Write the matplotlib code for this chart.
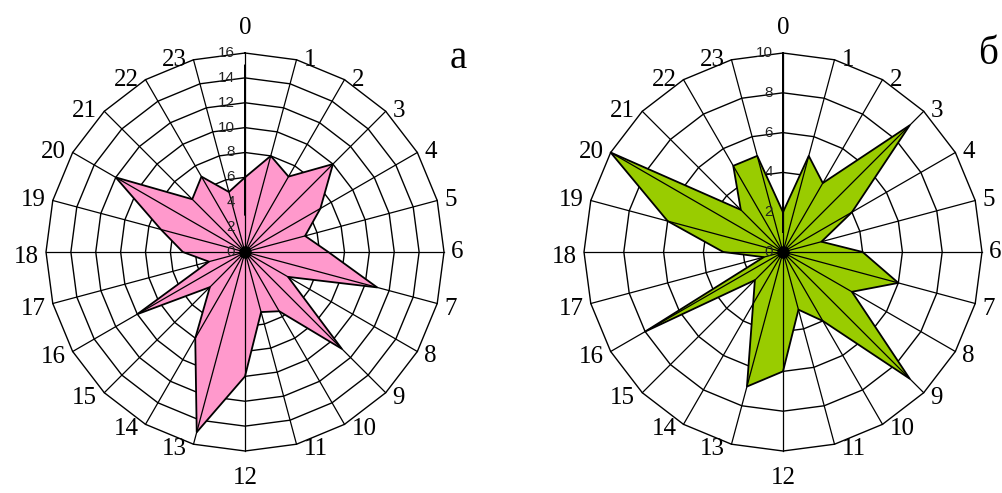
import numpy as np
import matplotlib
matplotlib.use("Agg")
import matplotlib.pyplot as plt

hours = [str(h) for h in range(24)]

# values per hour, panel a (pink) and panel б (green)
vals_a = [6, 8, 7, 10, 7, 5, 6.7, 11, 4, 11, 5.5, 5, 10, 15, 8, 4, 10, 3, 5, 7, 12, 6, 7, 5]
vals_b = [2, 5, 4, 9, 4, 2, 4, 6, 4, 9, 4, 3, 6, 7, 3, 2, 8, 1, 3, 6, 10, 3, 5, 5]

ticks_a = [0, 2, 4, 6, 8, 10, 12, 14, 16]
ticks_b = [0, 2, 4, 6, 8, 10]

W, H = 1003, 493
R_PX = 199      # outer ring radius in pixels
HALF = 240      # half size of each axes box in pixels

fig = plt.figure(figsize=(W / 100, H / 100), dpi=100)


def radar(cx, cy, vals, ticks, color, letter, letter_xy):
    rmax = ticks[-1]
    ax = fig.add_axes([(cx - HALF) / W, (H - cy - HALF) / H, 2 * HALF / W, 2 * HALF / H])
    lim = HALF / R_PX * rmax
    ax.set_xlim(-lim, lim)
    ax.set_ylim(-lim, lim)
    ax.set_aspect("equal")
    ax.axis("off")

    n = len(vals)
    ang = np.arange(n) * 2 * np.pi / n
    s, c = np.sin(ang), np.cos(ang)

    # polygon rings
    for t in ticks[1:]:
        ax.plot(np.append(t * s, t * s[0]), np.append(t * c, t * c[0]),
                color="black", lw=1.0, zorder=1)

    # data polygon
    v = np.array(vals)
    ax.fill(v * s, v * c, color=color, zorder=2, lw=0)

    # spokes
    for i in range(n):
        ax.plot([0, rmax * s[i]], [0, rmax * c[i]], color="black", lw=0.9, zorder=3)

    ax.plot(np.append(v * s, v * s[0]), np.append(v * c, v * c[0]),
            color="black", lw=1.3, zorder=4)
    ax.plot([0], [0], "o", color="black", ms=8, zorder=5)

    # radial tick labels
    for t in ticks:
        ax.annotate(str(t), (0, t), xytext=(-10, 0), textcoords="offset pixels",
                    ha="right", va="center", fontsize=11, color="#222222",
                    family="Liberation Sans", zorder=6)

    # hour labels
    for i in range(n):
        x, y = rmax * s[i], rmax * c[i]
        if i == 0:
            off, ha, va = (0, 14), "center", "bottom"
        elif i == n // 2:
            off, ha, va = (0, -16), "center", "top"
        elif s[i] > 0:
            off, ha, va = (7, 0 if c[i] > 0 else -5), "left", "center"
        else:
            off, ha, va = (-7, 0 if c[i] > 0 else -5), "right", "center"
        ax.annotate(hours[i], (x, y), xytext=off, textcoords="offset pixels",
                    ha=ha, va=va, fontsize=18, family="Liberation Serif",
                    annotation_clip=False)

    fig.text(letter_xy[0] / W, 1 - letter_xy[1] / H, letter, fontsize=28,
             family="Liberation Serif", ha="center", va="center")


radar(245, 252, vals_a, ticks_a, "#FF99CC", "а", (458, 58))
radar(783, 252, vals_b, ticks_b, "#99CC00", "б", (988, 55))

fig.savefig("out.png", dpi=100)
